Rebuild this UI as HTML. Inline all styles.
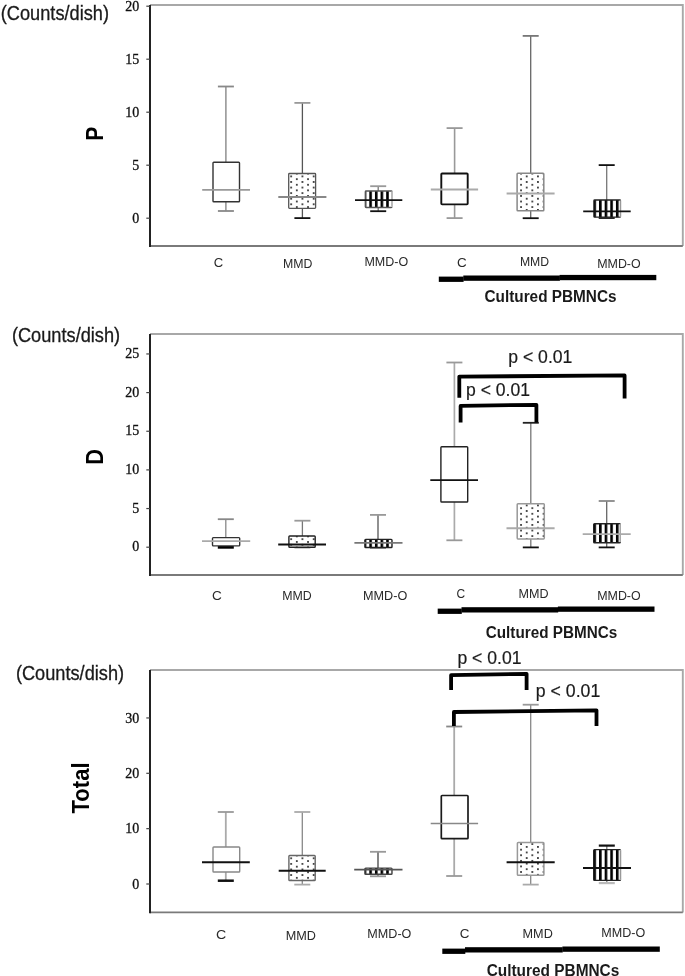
<!DOCTYPE html>
<html><head><meta charset="utf-8"><style>
html,body{margin:0;padding:0;background:#fff;}
body{width:685px;height:976px;overflow:hidden;}
svg{display:block;will-change:transform;}
</style></head><body>
<svg width="685" height="976" viewBox="0 0 685 976">
<rect x="0" y="0" width="685" height="976" fill="#fff"/>
<path d="M150 5 L682.8 5 L682.8 246" fill="none" stroke="#a8a8a8" stroke-width="1.9"/>
<line x1="150" y1="246" x2="682.8" y2="246" stroke="#7a7a7a" stroke-width="1.9"/>
<line x1="150" y1="5" x2="150" y2="246.9" stroke="#222" stroke-width="2.0"/>
<text x="0.82" y="19.8" font-family='"Liberation Sans", sans-serif' font-size="19.8" font-weight="normal" fill="#1a1a1a" text-anchor="start" textLength="108.16" lengthAdjust="spacingAndGlyphs" stroke="#1a1a1a" stroke-width="0.3">(Counts/dish)</text>
<line x1="146.3" y1="218.2" x2="150" y2="218.2" stroke="#444" stroke-width="1.2"/>
<text x="139.2" y="223.0" font-family='"Liberation Serif", serif' font-size="14" font-weight="normal" fill="#111" text-anchor="end" stroke="#111" stroke-width="0.3">0</text>
<line x1="146.3" y1="165.2" x2="150" y2="165.2" stroke="#444" stroke-width="1.2"/>
<text x="139.2" y="170.0" font-family='"Liberation Serif", serif' font-size="14" font-weight="normal" fill="#111" text-anchor="end" stroke="#111" stroke-width="0.3">5</text>
<line x1="146.3" y1="112.19999999999999" x2="150" y2="112.19999999999999" stroke="#444" stroke-width="1.2"/>
<text x="139.2" y="117.0" font-family='"Liberation Serif", serif' font-size="14" font-weight="normal" fill="#111" text-anchor="end" stroke="#111" stroke-width="0.3">10</text>
<line x1="146.3" y1="59.19999999999999" x2="150" y2="59.19999999999999" stroke="#444" stroke-width="1.2"/>
<text x="139.2" y="64.0" font-family='"Liberation Serif", serif' font-size="14" font-weight="normal" fill="#111" text-anchor="end" stroke="#111" stroke-width="0.3">15</text>
<line x1="146.3" y1="6.199999999999989" x2="150" y2="6.199999999999989" stroke="#444" stroke-width="1.2"/>
<text x="139.2" y="11.0" font-family='"Liberation Serif", serif' font-size="14" font-weight="normal" fill="#111" text-anchor="end" stroke="#111" stroke-width="0.3">20</text>
<text x="0" y="0" font-family='"Liberation Sans", sans-serif' font-size="24" font-weight="bold" fill="#000" transform="translate(102.6 140.8) rotate(-90) scale(0.88 1)">P</text>
<line x1="225.9" y1="86.5" x2="225.9" y2="162.2" stroke="#888" stroke-width="1.4"/>
<line x1="225.9" y1="201.7" x2="225.9" y2="211" stroke="#888" stroke-width="1.4"/>
<line x1="217.9" y1="86.5" x2="233.9" y2="86.5" stroke="#888" stroke-width="1.8"/>
<line x1="217.9" y1="211" x2="233.9" y2="211" stroke="#888" stroke-width="1.8"/>
<rect x="213" y="162.2" width="26.5" height="39.5" fill="#fff"/>
<rect x="213" y="162.2" width="26.5" height="39.5" fill="#fff" stroke="#333" stroke-width="1.4" rx="0.8"/>
<line x1="202.2" y1="189.8" x2="250" y2="189.8" stroke="#999" stroke-width="1.8"/>
<line x1="302.4" y1="102.9" x2="302.4" y2="173.5" stroke="#555" stroke-width="1.3"/>
<line x1="302.4" y1="208.4" x2="302.4" y2="218.1" stroke="#555" stroke-width="1.3"/>
<line x1="294.4" y1="102.9" x2="310.4" y2="102.9" stroke="#999" stroke-width="1.8"/>
<line x1="294.4" y1="218.1" x2="310.4" y2="218.1" stroke="#111" stroke-width="1.8"/>
<pattern id="p1" patternUnits="userSpaceOnUse" x="291.2" y="176.4" width="11.25" height="5.58"><circle cx="0" cy="0" r="0.9" fill="#000"/><circle cx="11.25" cy="0" r="0.9" fill="#000"/><circle cx="0" cy="5.58" r="0.9" fill="#000"/><circle cx="11.25" cy="5.58" r="0.9" fill="#000"/><circle cx="5.625" cy="2.79" r="0.9" fill="#000"/></pattern>
<rect x="288.7" y="173.5" width="26.900000000000034" height="34.900000000000006" fill="#fff"/>
<rect x="288.7" y="173.5" width="26.900000000000034" height="34.900000000000006" fill="url(#p1)" stroke="#555" stroke-width="1.3" rx="0.8"/>
<line x1="278.3" y1="197" x2="326.4" y2="197" stroke="#888" stroke-width="1.8"/>
<line x1="378.2" y1="186.2" x2="378.2" y2="191" stroke="#777" stroke-width="1.3"/>
<line x1="378.2" y1="207.5" x2="378.2" y2="211.2" stroke="#777" stroke-width="1.3"/>
<line x1="370.2" y1="186.2" x2="386.2" y2="186.2" stroke="#999" stroke-width="1.8"/>
<line x1="370.2" y1="211.2" x2="386.2" y2="211.2" stroke="#111" stroke-width="1.8"/>
<pattern id="p2" patternUnits="userSpaceOnUse" x="369.3" y="0" width="5.63" height="1000"><rect x="0" y="0" width="2.6" height="1000" fill="#000"/></pattern>
<rect x="365.3" y="191" width="26.69999999999999" height="16.5" fill="#fff"/>
<rect x="365.3" y="191" width="26.69999999999999" height="16.5" fill="url(#p2)" stroke="#555" stroke-width="1.3" rx="0.8"/>
<rect x="391.05" y="191.65" width="1.9" height="15.2" fill="#fff"/>
<line x1="392" y1="191.65" x2="392" y2="206.85" stroke="#888" stroke-width="1.1"/>
<line x1="355" y1="200.2" x2="402.3" y2="200.2" stroke="#111" stroke-width="1.8"/>
<line x1="454.6" y1="128.1" x2="454.6" y2="173.5" stroke="#999" stroke-width="1.6"/>
<line x1="454.6" y1="204.4" x2="454.6" y2="218.1" stroke="#999" stroke-width="1.6"/>
<line x1="446.6" y1="128.1" x2="462.6" y2="128.1" stroke="#999" stroke-width="1.8"/>
<line x1="446.6" y1="218.1" x2="462.6" y2="218.1" stroke="#999" stroke-width="1.8"/>
<rect x="441.3" y="173.5" width="26.399999999999977" height="30.900000000000006" fill="#fff"/>
<rect x="441.3" y="173.5" width="26.399999999999977" height="30.900000000000006" fill="#fff" stroke="#111" stroke-width="1.9" rx="0.8"/>
<line x1="430.8" y1="189.6" x2="478.1" y2="189.6" stroke="#aaa" stroke-width="2.0"/>
<line x1="530.7" y1="35.9" x2="530.7" y2="173.3" stroke="#666" stroke-width="1.3"/>
<line x1="530.7" y1="210.8" x2="530.7" y2="218.2" stroke="#666" stroke-width="1.3"/>
<line x1="522.7" y1="35.9" x2="538.7" y2="35.9" stroke="#777" stroke-width="1.8"/>
<line x1="522.7" y1="218.2" x2="538.7" y2="218.2" stroke="#111" stroke-width="1.8"/>
<pattern id="p3" patternUnits="userSpaceOnUse" x="521.1" y="179.2" width="11.25" height="5.58"><circle cx="0" cy="0" r="0.9" fill="#000"/><circle cx="11.25" cy="0" r="0.9" fill="#000"/><circle cx="0" cy="5.58" r="0.9" fill="#000"/><circle cx="11.25" cy="5.58" r="0.9" fill="#000"/><circle cx="5.625" cy="2.79" r="0.9" fill="#000"/></pattern>
<rect x="517.1" y="173.3" width="26.699999999999932" height="37.5" fill="#fff"/>
<rect x="517.1" y="173.3" width="26.699999999999932" height="37.5" fill="url(#p3)" stroke="#888" stroke-width="1.5" rx="0.8"/>
<line x1="506.6" y1="193.6" x2="554.6" y2="193.6" stroke="#aaa" stroke-width="2.0"/>
<line x1="606.7" y1="165.1" x2="606.7" y2="200" stroke="#777" stroke-width="1.3"/>
<line x1="606.7" y1="217.2" x2="606.7" y2="218" stroke="#777" stroke-width="1.3"/>
<line x1="598.7" y1="165.1" x2="614.7" y2="165.1" stroke="#111" stroke-width="1.8"/>
<line x1="598.7" y1="218" x2="614.7" y2="218" stroke="#111" stroke-width="1.8"/>
<pattern id="p4" patternUnits="userSpaceOnUse" x="593.4000000000001" y="0" width="5.63" height="1000"><rect x="0" y="0" width="2.6" height="1000" fill="#000"/></pattern>
<rect x="593.9" y="200" width="26.600000000000023" height="17.19999999999999" fill="#fff"/>
<rect x="593.9" y="200" width="26.600000000000023" height="17.19999999999999" fill="url(#p4)" stroke="#222" stroke-width="1.3" rx="0.8"/>
<rect x="619.5500000000001" y="200.65" width="1.9" height="15.899999999999988" fill="#fff"/>
<line x1="620.5" y1="200.65" x2="620.5" y2="216.54999999999998" stroke="#999" stroke-width="1.1"/>
<line x1="583.2" y1="211.3" x2="630.7" y2="211.3" stroke="#111" stroke-width="1.8"/>
<text x="213.73" y="266.6" font-family='"Liberation Sans", sans-serif' font-size="13" font-weight="normal" fill="#2a2a2a" text-anchor="start" textLength="9.46" lengthAdjust="spacingAndGlyphs">C</text>
<text x="283.09" y="268.0" font-family='"Liberation Sans", sans-serif' font-size="13" font-weight="normal" fill="#2a2a2a" text-anchor="start" textLength="29.4" lengthAdjust="spacingAndGlyphs">MMD</text>
<text x="364.47" y="266.2" font-family='"Liberation Sans", sans-serif' font-size="13" font-weight="normal" fill="#2a2a2a" text-anchor="start" textLength="43.72" lengthAdjust="spacingAndGlyphs">MMD-O</text>
<text x="457.12" y="266.6" font-family='"Liberation Sans", sans-serif' font-size="13" font-weight="normal" fill="#2a2a2a" text-anchor="start" textLength="9.69" lengthAdjust="spacingAndGlyphs">C</text>
<text x="519.9" y="266.4" font-family='"Liberation Sans", sans-serif' font-size="13" font-weight="normal" fill="#2a2a2a" text-anchor="start" textLength="29.19" lengthAdjust="spacingAndGlyphs">MMD</text>
<text x="597.18" y="267.6" font-family='"Liberation Sans", sans-serif' font-size="13" font-weight="normal" fill="#2a2a2a" text-anchor="start" textLength="43.52" lengthAdjust="spacingAndGlyphs">MMD-O</text>
<rect x="438.8" y="276.6" width="24.8" height="5.3" fill="#000"/>
<rect x="463.3" y="275.5" width="96.6" height="5.3" fill="#000"/>
<rect x="559.6" y="274.9" width="96.7" height="5.3" fill="#000"/>
<text x="484.47" y="301.5" font-family='"Liberation Sans", sans-serif' font-size="15.8" font-weight="bold" fill="#1a1a1a" text-anchor="start" textLength="132.06" lengthAdjust="spacingAndGlyphs">Cultured PBMNCs</text>
<path d="M150 334 L682.8 334 L682.8 575" fill="none" stroke="#a8a8a8" stroke-width="1.9"/>
<line x1="150" y1="575" x2="682.8" y2="575" stroke="#7a7a7a" stroke-width="1.9"/>
<line x1="150" y1="334" x2="150" y2="575.9" stroke="#222" stroke-width="2.0"/>
<text x="11.92" y="342.1" font-family='"Liberation Sans", sans-serif' font-size="19.8" font-weight="normal" fill="#1a1a1a" text-anchor="start" textLength="108.26" lengthAdjust="spacingAndGlyphs" stroke="#1a1a1a" stroke-width="0.3">(Counts/dish)</text>
<line x1="146.3" y1="547.2" x2="150" y2="547.2" stroke="#444" stroke-width="1.2"/>
<text x="139.2" y="551.1" font-family='"Liberation Serif", serif' font-size="14" font-weight="normal" fill="#111" text-anchor="end" stroke="#111" stroke-width="0.3">0</text>
<line x1="146.3" y1="508.55000000000007" x2="150" y2="508.55000000000007" stroke="#444" stroke-width="1.2"/>
<text x="139.2" y="512.5" font-family='"Liberation Serif", serif' font-size="14" font-weight="normal" fill="#111" text-anchor="end" stroke="#111" stroke-width="0.3">5</text>
<line x1="146.3" y1="469.90000000000003" x2="150" y2="469.90000000000003" stroke="#444" stroke-width="1.2"/>
<text x="139.2" y="473.8" font-family='"Liberation Serif", serif' font-size="14" font-weight="normal" fill="#111" text-anchor="end" stroke="#111" stroke-width="0.3">10</text>
<line x1="146.3" y1="431.25000000000006" x2="150" y2="431.25000000000006" stroke="#444" stroke-width="1.2"/>
<text x="139.2" y="435.2" font-family='"Liberation Serif", serif' font-size="14" font-weight="normal" fill="#111" text-anchor="end" stroke="#111" stroke-width="0.3">15</text>
<line x1="146.3" y1="392.6" x2="150" y2="392.6" stroke="#444" stroke-width="1.2"/>
<text x="139.2" y="396.5" font-family='"Liberation Serif", serif' font-size="14" font-weight="normal" fill="#111" text-anchor="end" stroke="#111" stroke-width="0.3">20</text>
<line x1="146.3" y1="353.95000000000005" x2="150" y2="353.95000000000005" stroke="#444" stroke-width="1.2"/>
<text x="139.2" y="357.9" font-family='"Liberation Serif", serif' font-size="14" font-weight="normal" fill="#111" text-anchor="end" stroke="#111" stroke-width="0.3">25</text>
<text x="0" y="0" font-family='"Liberation Sans", sans-serif' font-size="23" font-weight="bold" fill="#000" transform="translate(102.6 464.8) rotate(-90) scale(0.95 1)">D</text>
<line x1="225.8" y1="519.2" x2="225.8" y2="537.6" stroke="#888" stroke-width="1.3"/>
<line x1="225.8" y1="545.9" x2="225.8" y2="547.2" stroke="#888" stroke-width="1.3"/>
<line x1="217.8" y1="519.2" x2="233.8" y2="519.2" stroke="#888" stroke-width="1.8"/>
<line x1="217.8" y1="547.2" x2="233.8" y2="547.2" stroke="#000" stroke-width="3"/>
<rect x="212.5" y="537.6" width="27.19999999999999" height="8.299999999999955" fill="#fff"/>
<rect x="212.5" y="537.6" width="27.19999999999999" height="8.299999999999955" fill="#fff" stroke="#333" stroke-width="1.4" rx="0.8"/>
<line x1="202" y1="541.1" x2="250.2" y2="541.1" stroke="#aaa" stroke-width="1.8"/>
<line x1="302.4" y1="520.7" x2="302.4" y2="536" stroke="#777" stroke-width="1.3"/>
<line x1="302.4" y1="547.3" x2="302.4" y2="547.3" stroke="#777" stroke-width="1.3"/>
<line x1="294.4" y1="520.7" x2="310.4" y2="520.7" stroke="#999" stroke-width="1.8"/>
<line x1="294.4" y1="547.3" x2="310.4" y2="547.3" stroke="#111" stroke-width="1.8"/>
<pattern id="p5" patternUnits="userSpaceOnUse" x="291.2" y="539.2" width="11.25" height="5.58"><circle cx="0" cy="0" r="0.9" fill="#000"/><circle cx="11.25" cy="0" r="0.9" fill="#000"/><circle cx="0" cy="5.58" r="0.9" fill="#000"/><circle cx="11.25" cy="5.58" r="0.9" fill="#000"/><circle cx="5.625" cy="2.79" r="0.9" fill="#000"/></pattern>
<rect x="288.9" y="536" width="26.30000000000001" height="11.299999999999955" fill="#fff"/>
<rect x="288.9" y="536" width="26.30000000000001" height="11.299999999999955" fill="url(#p5)" stroke="#222" stroke-width="1.4" rx="0.8"/>
<line x1="278.2" y1="544.5" x2="326" y2="544.5" stroke="#111" stroke-width="1.8"/>
<line x1="378" y1="514.9" x2="378" y2="539.4" stroke="#555" stroke-width="1.3"/>
<line x1="378" y1="547.5" x2="378" y2="547.5" stroke="#555" stroke-width="1.3"/>
<line x1="370.0" y1="514.9" x2="386.0" y2="514.9" stroke="#999" stroke-width="1.8"/>
<line x1="370.0" y1="547.5" x2="386.0" y2="547.5" stroke="#111" stroke-width="1.8"/>
<pattern id="p6" patternUnits="userSpaceOnUse" x="369.3" y="0" width="5.63" height="1000"><rect x="0" y="0" width="2.6" height="1000" fill="#000"/></pattern>
<rect x="364.9" y="539.4" width="27.100000000000023" height="8.100000000000023" fill="#fff"/>
<rect x="364.9" y="539.4" width="27.100000000000023" height="8.100000000000023" fill="url(#p6)" stroke="#222" stroke-width="1.4" rx="0.8"/>
<line x1="354.4" y1="542.9" x2="402.5" y2="542.9" stroke="#777" stroke-width="1.8"/>
<line x1="454.4" y1="362.5" x2="454.4" y2="446.8" stroke="#aaa" stroke-width="1.7"/>
<line x1="454.4" y1="502" x2="454.4" y2="540.3" stroke="#aaa" stroke-width="1.7"/>
<line x1="446.4" y1="362.5" x2="462.4" y2="362.5" stroke="#999" stroke-width="1.8"/>
<line x1="446.4" y1="540.3" x2="462.4" y2="540.3" stroke="#999" stroke-width="1.8"/>
<rect x="440.9" y="446.8" width="26.80000000000001" height="55.19999999999999" fill="#fff"/>
<rect x="440.9" y="446.8" width="26.80000000000001" height="55.19999999999999" fill="#fff" stroke="#222" stroke-width="1.4" rx="0.8"/>
<line x1="430.3" y1="480.1" x2="478" y2="480.1" stroke="#111" stroke-width="1.8"/>
<line x1="530.8" y1="422.8" x2="530.8" y2="503.8" stroke="#777" stroke-width="1.3"/>
<line x1="530.8" y1="538.9" x2="530.8" y2="547.4" stroke="#777" stroke-width="1.3"/>
<line x1="522.8" y1="422.8" x2="538.8" y2="422.8" stroke="#222" stroke-width="1.8"/>
<line x1="522.8" y1="547.4" x2="538.8" y2="547.4" stroke="#111" stroke-width="1.8"/>
<pattern id="p7" patternUnits="userSpaceOnUse" x="521.1" y="508.2" width="11.25" height="5.58"><circle cx="0" cy="0" r="0.9" fill="#000"/><circle cx="11.25" cy="0" r="0.9" fill="#000"/><circle cx="0" cy="5.58" r="0.9" fill="#000"/><circle cx="11.25" cy="5.58" r="0.9" fill="#000"/><circle cx="5.625" cy="2.79" r="0.9" fill="#000"/></pattern>
<rect x="517.2" y="503.8" width="27.09999999999991" height="35.099999999999966" fill="#fff"/>
<rect x="517.2" y="503.8" width="27.09999999999991" height="35.099999999999966" fill="url(#p7)" stroke="#999" stroke-width="1.5" rx="0.8"/>
<line x1="506.5" y1="528.2" x2="554.6" y2="528.2" stroke="#aaa" stroke-width="2.0"/>
<line x1="606.7" y1="501" x2="606.7" y2="523.7" stroke="#666" stroke-width="1.3"/>
<line x1="606.7" y1="542.8" x2="606.7" y2="547.4" stroke="#666" stroke-width="1.3"/>
<line x1="598.7" y1="501" x2="614.7" y2="501" stroke="#888" stroke-width="1.8"/>
<line x1="598.7" y1="547.4" x2="614.7" y2="547.4" stroke="#111" stroke-width="1.8"/>
<pattern id="p8" patternUnits="userSpaceOnUse" x="593.4000000000001" y="0" width="5.63" height="1000"><rect x="0" y="0" width="2.6" height="1000" fill="#000"/></pattern>
<rect x="593.7" y="523.7" width="26.59999999999991" height="19.09999999999991" fill="#fff"/>
<rect x="593.7" y="523.7" width="26.59999999999991" height="19.09999999999991" fill="url(#p8)" stroke="#222" stroke-width="1.4" rx="0.8"/>
<rect x="619.3" y="524.4000000000001" width="2.0" height="17.69999999999991" fill="#fff"/>
<line x1="620.3" y1="524.4000000000001" x2="620.3" y2="542.0999999999999" stroke="#999" stroke-width="1.1"/>
<line x1="582.7" y1="534.1" x2="630.7" y2="534.1" stroke="#aaa" stroke-width="1.8"/>
<path d="M459.3 397.7 L459.3 376.6 L624.6 375.4 L624.6 398.4" fill="none" stroke="#000" stroke-width="3.8" stroke-linejoin="round"/>
<path d="M460.6 422.5 L460.6 405.9 L536.4 404.8 L536.4 422.5" fill="none" stroke="#000" stroke-width="3.8" stroke-linejoin="round"/>
<text x="508.27" y="363.0" font-family='"Liberation Sans", sans-serif' font-size="18.5" font-weight="normal" fill="#1a1a1a" text-anchor="start" textLength="64.09" lengthAdjust="spacingAndGlyphs" stroke="#1a1a1a" stroke-width="0.2">p &lt; 0.01</text>
<text x="466.07" y="396.2" font-family='"Liberation Sans", sans-serif' font-size="18.5" font-weight="normal" fill="#1a1a1a" text-anchor="start" textLength="63.99" lengthAdjust="spacingAndGlyphs" stroke="#1a1a1a" stroke-width="0.2">p &lt; 0.01</text>
<text x="212.01" y="599.6" font-family='"Liberation Sans", sans-serif' font-size="13" font-weight="normal" fill="#2a2a2a" text-anchor="start" textLength="9.81" lengthAdjust="spacingAndGlyphs">C</text>
<text x="282.29" y="599.6" font-family='"Liberation Sans", sans-serif' font-size="13" font-weight="normal" fill="#2a2a2a" text-anchor="start" textLength="29.5" lengthAdjust="spacingAndGlyphs">MMD</text>
<text x="363.06" y="599.6" font-family='"Liberation Sans", sans-serif' font-size="13" font-weight="normal" fill="#2a2a2a" text-anchor="start" textLength="44.24" lengthAdjust="spacingAndGlyphs">MMD-O</text>
<text x="456.49" y="598.0" font-family='"Liberation Sans", sans-serif' font-size="13" font-weight="normal" fill="#2a2a2a" text-anchor="start" textLength="8.67" lengthAdjust="spacingAndGlyphs">C</text>
<text x="518.47" y="598.0" font-family='"Liberation Sans", sans-serif' font-size="13" font-weight="normal" fill="#2a2a2a" text-anchor="start" textLength="30.03" lengthAdjust="spacingAndGlyphs">MMD</text>
<text x="597.18" y="599.6" font-family='"Liberation Sans", sans-serif' font-size="13" font-weight="normal" fill="#2a2a2a" text-anchor="start" textLength="43.52" lengthAdjust="spacingAndGlyphs">MMD-O</text>
<rect x="437.7" y="608.6" width="24.1" height="5.3" fill="#000"/>
<rect x="461.5" y="607.2" width="96.7" height="5.3" fill="#000"/>
<rect x="557.9" y="606.5" width="96.6" height="5.3" fill="#000"/>
<text x="485.77" y="637.6" font-family='"Liberation Sans", sans-serif' font-size="15.8" font-weight="bold" fill="#1a1a1a" text-anchor="start" textLength="131.45" lengthAdjust="spacingAndGlyphs">Cultured PBMNCs</text>
<path d="M150 670 L682.8 670 L682.8 912.4" fill="none" stroke="#a8a8a8" stroke-width="1.9"/>
<line x1="150" y1="912.4" x2="682.8" y2="912.4" stroke="#7a7a7a" stroke-width="1.9"/>
<line x1="150" y1="670" x2="150" y2="913.3" stroke="#222" stroke-width="2.0"/>
<text x="15.92" y="679.5" font-family='"Liberation Sans", sans-serif' font-size="19.8" font-weight="normal" fill="#1a1a1a" text-anchor="start" textLength="108.16" lengthAdjust="spacingAndGlyphs" stroke="#1a1a1a" stroke-width="0.3">(Counts/dish)</text>
<line x1="146.3" y1="884.0" x2="150" y2="884.0" stroke="#444" stroke-width="1.2"/>
<text x="139.2" y="888.8" font-family='"Liberation Serif", serif' font-size="14" font-weight="normal" fill="#111" text-anchor="end" stroke="#111" stroke-width="0.3">0</text>
<line x1="146.3" y1="828.65" x2="150" y2="828.65" stroke="#444" stroke-width="1.2"/>
<text x="139.2" y="833.4" font-family='"Liberation Serif", serif' font-size="14" font-weight="normal" fill="#111" text-anchor="end" stroke="#111" stroke-width="0.3">10</text>
<line x1="146.3" y1="773.3" x2="150" y2="773.3" stroke="#444" stroke-width="1.2"/>
<text x="139.2" y="778.1" font-family='"Liberation Serif", serif' font-size="14" font-weight="normal" fill="#111" text-anchor="end" stroke="#111" stroke-width="0.3">20</text>
<line x1="146.3" y1="717.95" x2="150" y2="717.95" stroke="#444" stroke-width="1.2"/>
<text x="139.2" y="722.8" font-family='"Liberation Serif", serif' font-size="14" font-weight="normal" fill="#111" text-anchor="end" stroke="#111" stroke-width="0.3">30</text>
<text x="0" y="0" font-family='"Liberation Sans", sans-serif' font-size="24" font-weight="bold" fill="#000" transform="translate(89.4 813.5) rotate(-90) scale(0.92 1)">Total</text>
<line x1="225.8" y1="812" x2="225.8" y2="847" stroke="#aaa" stroke-width="1.8"/>
<line x1="225.8" y1="872" x2="225.8" y2="880.7" stroke="#aaa" stroke-width="1.8"/>
<line x1="217.8" y1="812" x2="233.8" y2="812" stroke="#999" stroke-width="1.8"/>
<line x1="217.8" y1="880.7" x2="233.8" y2="880.7" stroke="#111" stroke-width="2.5"/>
<rect x="213" y="847" width="26.69999999999999" height="25" fill="#fff"/>
<rect x="213" y="847" width="26.69999999999999" height="25" fill="#fff" stroke="#888" stroke-width="1.4" rx="0.8"/>
<line x1="202" y1="862.3" x2="249.8" y2="862.3" stroke="#111" stroke-width="2.0"/>
<line x1="302.3" y1="812" x2="302.3" y2="855.5" stroke="#888" stroke-width="1.3"/>
<line x1="302.3" y1="880.5" x2="302.3" y2="884.6" stroke="#888" stroke-width="1.3"/>
<line x1="294.3" y1="812" x2="310.3" y2="812" stroke="#aaa" stroke-width="1.8"/>
<line x1="294.3" y1="884.6" x2="310.3" y2="884.6" stroke="#aaa" stroke-width="1.8"/>
<pattern id="p9" patternUnits="userSpaceOnUse" x="291.2" y="858.3" width="11.25" height="5.58"><circle cx="0" cy="0" r="0.9" fill="#000"/><circle cx="11.25" cy="0" r="0.9" fill="#000"/><circle cx="0" cy="5.58" r="0.9" fill="#000"/><circle cx="11.25" cy="5.58" r="0.9" fill="#000"/><circle cx="5.625" cy="2.79" r="0.9" fill="#000"/></pattern>
<rect x="288.9" y="855.5" width="26.30000000000001" height="25.0" fill="#fff"/>
<rect x="288.9" y="855.5" width="26.30000000000001" height="25.0" fill="url(#p9)" stroke="#666" stroke-width="1.4" rx="0.8"/>
<line x1="278.7" y1="870.7" x2="325.7" y2="870.7" stroke="#111" stroke-width="2.0"/>
<line x1="378" y1="851.8" x2="378" y2="868.1" stroke="#444" stroke-width="1.3"/>
<line x1="378" y1="874.2" x2="378" y2="876.3" stroke="#444" stroke-width="1.3"/>
<line x1="370.0" y1="851.8" x2="386.0" y2="851.8" stroke="#999" stroke-width="1.8"/>
<line x1="370.0" y1="876.3" x2="386.0" y2="876.3" stroke="#999" stroke-width="1.8"/>
<pattern id="p10" patternUnits="userSpaceOnUse" x="369.3" y="0" width="5.63" height="1000"><rect x="0" y="0" width="2.6" height="1000" fill="#000"/></pattern>
<rect x="364.9" y="868.1" width="27.100000000000023" height="6.100000000000023" fill="#fff"/>
<rect x="364.9" y="868.1" width="27.100000000000023" height="6.100000000000023" fill="url(#p10)" stroke="#444" stroke-width="1.4" rx="0.8"/>
<line x1="354.2" y1="869.6" x2="402.5" y2="869.6" stroke="#555" stroke-width="1.8"/>
<line x1="454.2" y1="726.5" x2="454.2" y2="795.5" stroke="#aaa" stroke-width="1.8"/>
<line x1="454.2" y1="838.7" x2="454.2" y2="876" stroke="#aaa" stroke-width="1.8"/>
<line x1="446.2" y1="726.5" x2="462.2" y2="726.5" stroke="#888" stroke-width="1.8"/>
<line x1="446.2" y1="876" x2="462.2" y2="876" stroke="#999" stroke-width="1.8"/>
<rect x="441.3" y="795.5" width="26.69999999999999" height="43.200000000000045" fill="#fff"/>
<rect x="441.3" y="795.5" width="26.69999999999999" height="43.200000000000045" fill="#fff" stroke="#1a1a1a" stroke-width="1.7" rx="0.8"/>
<line x1="430.7" y1="823.5" x2="478.1" y2="823.5" stroke="#888" stroke-width="1.6"/>
<line x1="530.7" y1="704.7" x2="530.7" y2="842.5" stroke="#888" stroke-width="1.3"/>
<line x1="530.7" y1="875.2" x2="530.7" y2="884.6" stroke="#888" stroke-width="1.3"/>
<line x1="522.7" y1="704.7" x2="538.7" y2="704.7" stroke="#999" stroke-width="1.8"/>
<line x1="522.7" y1="884.6" x2="538.7" y2="884.6" stroke="#aaa" stroke-width="1.8"/>
<pattern id="p11" patternUnits="userSpaceOnUse" x="521.1" y="844.1" width="11.25" height="5.58"><circle cx="0" cy="0" r="0.9" fill="#000"/><circle cx="11.25" cy="0" r="0.9" fill="#000"/><circle cx="0" cy="5.58" r="0.9" fill="#000"/><circle cx="11.25" cy="5.58" r="0.9" fill="#000"/><circle cx="5.625" cy="2.79" r="0.9" fill="#000"/></pattern>
<rect x="517.4" y="842.5" width="26.5" height="32.700000000000045" fill="#fff"/>
<rect x="517.4" y="842.5" width="26.5" height="32.700000000000045" fill="url(#p11)" stroke="#999" stroke-width="1.5" rx="0.8"/>
<line x1="506.6" y1="862.2" x2="554.7" y2="862.2" stroke="#111" stroke-width="2.0"/>
<line x1="606.8" y1="845.6" x2="606.8" y2="849.6" stroke="#777" stroke-width="1.3"/>
<line x1="606.8" y1="880.4" x2="606.8" y2="883.1" stroke="#777" stroke-width="1.3"/>
<line x1="598.8" y1="845.6" x2="614.8" y2="845.6" stroke="#111" stroke-width="2.2"/>
<line x1="598.8" y1="883.1" x2="614.8" y2="883.1" stroke="#bbb" stroke-width="2.2"/>
<pattern id="p12" patternUnits="userSpaceOnUse" x="593.4000000000001" y="0" width="5.63" height="1000"><rect x="0" y="0" width="2.6" height="1000" fill="#000"/></pattern>
<rect x="593.7" y="849.6" width="26.799999999999955" height="30.799999999999955" fill="#fff"/>
<rect x="593.7" y="849.6" width="26.799999999999955" height="30.799999999999955" fill="url(#p12)" stroke="#222" stroke-width="1.4" rx="0.8"/>
<rect x="619.5" y="850.3000000000001" width="2.0" height="29.399999999999956" fill="#fff"/>
<line x1="620.5" y1="850.3000000000001" x2="620.5" y2="879.6999999999999" stroke="#999" stroke-width="1.1"/>
<line x1="583" y1="868.1" x2="631" y2="868.1" stroke="#111" stroke-width="2.0"/>
<path d="M451.1 689.9 L451.1 675.2 L526.6 673.9 L526.6 689.9" fill="none" stroke="#000" stroke-width="3.8" stroke-linejoin="round"/>
<path d="M453.9 726.1 L453.9 712.0 L596.5 710.3 L596.5 726.1" fill="none" stroke="#000" stroke-width="3.8" stroke-linejoin="round"/>
<text x="457.47" y="663.6" font-family='"Liberation Sans", sans-serif' font-size="18.5" font-weight="normal" fill="#1a1a1a" text-anchor="start" textLength="63.99" lengthAdjust="spacingAndGlyphs" stroke="#1a1a1a" stroke-width="0.2">p &lt; 0.01</text>
<text x="535.86" y="697.4" font-family='"Liberation Sans", sans-serif' font-size="18.5" font-weight="normal" fill="#1a1a1a" text-anchor="start" textLength="64.4" lengthAdjust="spacingAndGlyphs" stroke="#1a1a1a" stroke-width="0.2">p &lt; 0.01</text>
<text x="215.98" y="938.6" font-family='"Liberation Sans", sans-serif' font-size="13" font-weight="normal" fill="#2a2a2a" text-anchor="start" textLength="10.26" lengthAdjust="spacingAndGlyphs">C</text>
<text x="285.76" y="940.0" font-family='"Liberation Sans", sans-serif' font-size="13" font-weight="normal" fill="#2a2a2a" text-anchor="start" textLength="30.24" lengthAdjust="spacingAndGlyphs">MMD</text>
<text x="367.37" y="938.3" font-family='"Liberation Sans", sans-serif' font-size="13" font-weight="normal" fill="#2a2a2a" text-anchor="start" textLength="44.03" lengthAdjust="spacingAndGlyphs">MMD-O</text>
<text x="459.72" y="938.3" font-family='"Liberation Sans", sans-serif' font-size="13" font-weight="normal" fill="#2a2a2a" text-anchor="start" textLength="9.69" lengthAdjust="spacingAndGlyphs">C</text>
<text x="522.56" y="938.4" font-family='"Liberation Sans", sans-serif' font-size="13" font-weight="normal" fill="#2a2a2a" text-anchor="start" textLength="30.24" lengthAdjust="spacingAndGlyphs">MMD</text>
<text x="601.27" y="936.6" font-family='"Liberation Sans", sans-serif' font-size="13" font-weight="normal" fill="#2a2a2a" text-anchor="start" textLength="43.93" lengthAdjust="spacingAndGlyphs">MMD-O</text>
<rect x="442.3" y="948.6" width="23.0" height="5.3" fill="#000"/>
<rect x="465" y="947.2" width="97.7" height="5.3" fill="#000"/>
<rect x="562.4" y="946.5" width="97.4" height="5.3" fill="#000"/>
<text x="486.67" y="976.0" font-family='"Liberation Sans", sans-serif' font-size="15.8" font-weight="bold" fill="#1a1a1a" text-anchor="start" textLength="132.66" lengthAdjust="spacingAndGlyphs">Cultured PBMNCs</text>
</svg>
</body></html>
